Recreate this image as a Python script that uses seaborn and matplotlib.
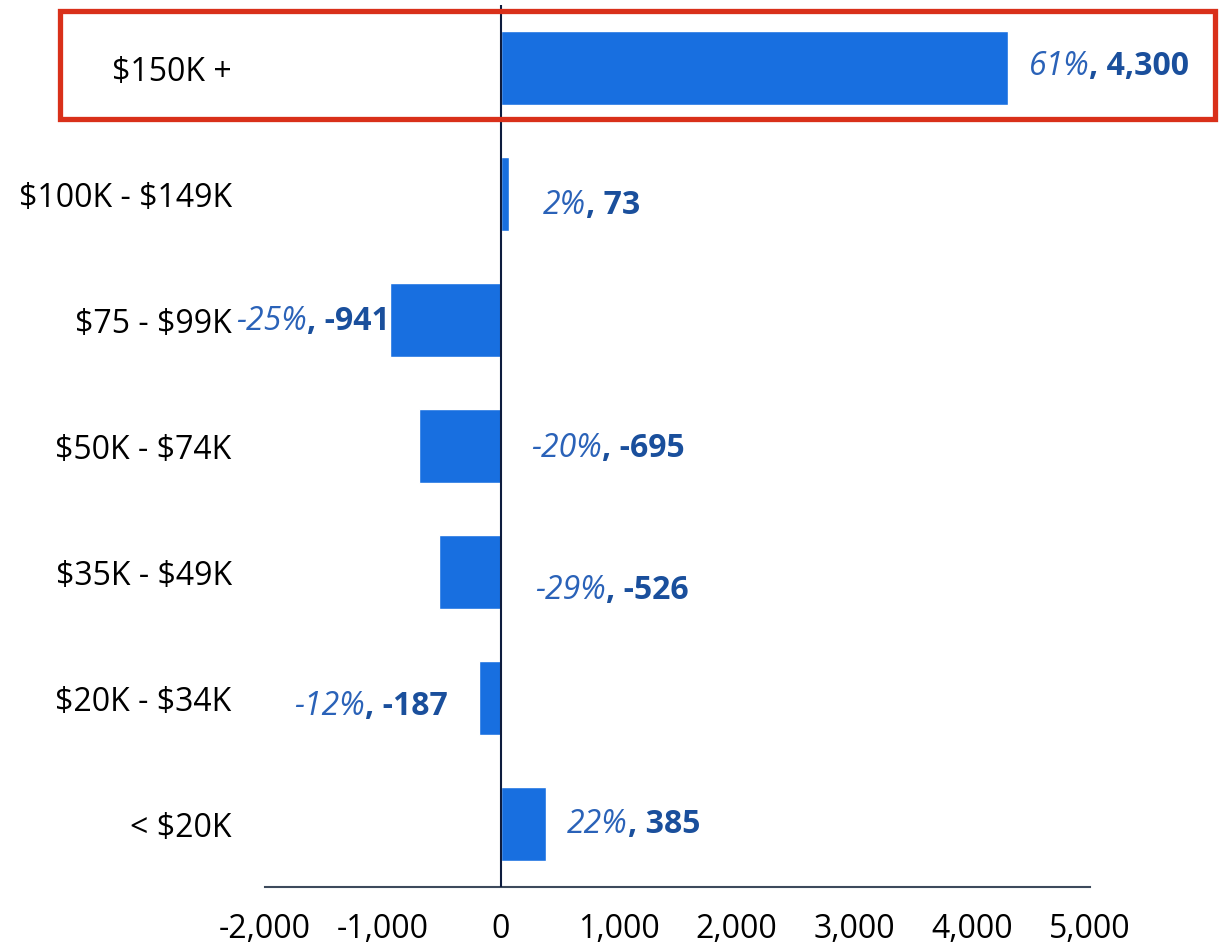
import seaborn as sns
import pandas as pd
import matplotlib.pyplot as plt
from matplotlib.patches import Rectangle
from matplotlib.ticker import FuncFormatter

# income brackets, change in households and share change
brackets = ["$150K +", "$100K - $149K", "$75 - $99K", "$50K - $74K",
            "$35K - $49K", "$20K - $34K", "< $20K"]
change = [4300, 73, -941, -695, -526, -187, 385]
pct_change = [61, 2, -25, -20, -29, -12, 22]
x_ticks = [-2000, -1000, 0, 1000, 2000, 3000, 4000, 5000]

# where each label sits (data x, alignment, vertical nudge in points)
label_x = [4480, 355, -945, 255, 295, -450, 565]
label_ha = ["left", "left", "right", "left", "left", "right", "left"]
label_dy = [1, -8, -1, -2, -13, -6, 0]

BAR = "#186fe0"
PCT_COL = "#2a62b8"
VAL_COL = "#1a4f9c"
FS = 23

sns.set_theme(style="white")
plt.rcParams["font.family"] = ["Open Sans", "DejaVu Sans"]
plt.rcParams["text.parse_math"] = False

df = pd.DataFrame({"bracket": brackets, "change": change, "pct": pct_change})

fig = plt.figure(figsize=(12.3, 9.49), dpi=100)
ax = fig.add_axes([265 / 1230, (949 - 887) / 949, (1090 - 265) / 1230, (887 - 5) / 949])

sns.barplot(data=df, y="bracket", x="change", order=brackets, orient="h",
            color=BAR, saturation=1, width=0.59, ax=ax)

ax.set_xlim(-2000, 5000)
ax.set_ylim(6.5, -0.5)
ax.set_xticks(x_ticks)
ax.xaxis.set_major_formatter(FuncFormatter(lambda v, p: f"{int(v):,}"))
ax.set_xlabel("")
ax.set_ylabel("")
ax.tick_params(axis="x", length=0, pad=19, labelsize=FS, labelcolor="black")
ax.tick_params(axis="y", length=0, pad=24, labelsize=FS, labelcolor="black")

for side in ["top", "right", "left"]:
    ax.spines[side].set_visible(False)
ax.spines["bottom"].set_color("#3d4a5c")
ax.spines["bottom"].set_linewidth(1.5)
ax.axvline(0, color="#0d1b3e", lw=1.5, zorder=3)

for i in range(len(brackets)):
    pct_txt = f"{pct_change[i]}%"
    val_txt = f", {change[i]:,}"
    if label_ha[i] == "left":
        t1 = ax.annotate(pct_txt, (label_x[i], i), xytext=(0, label_dy[i]),
                         textcoords="offset points", ha="left", va="center",
                         fontsize=FS, style="italic", color=PCT_COL)
        ax.annotate(val_txt, xy=(1, 0), xycoords=t1, ha="left", va="bottom",
                    fontsize=FS, weight="bold", color=VAL_COL)
    else:
        t2 = ax.annotate(val_txt, (label_x[i], i), xytext=(0, label_dy[i]),
                         textcoords="offset points", ha="right", va="center",
                         fontsize=FS, weight="bold", color=VAL_COL)
        ax.annotate(pct_txt, xy=(0, 0), xycoords=t2, ha="right", va="bottom",
                    fontsize=FS, style="italic", color=PCT_COL)

# highlight box round the top row
fig.patches.append(Rectangle((60 / 1230, (949 - 119) / 949), (1215 - 60) / 1230, (119 - 11) / 949,
                             transform=fig.transFigure, fill=False,
                             edgecolor="#d9301a", lw=3.8, zorder=10))

fig.savefig("out.png", dpi=100)
